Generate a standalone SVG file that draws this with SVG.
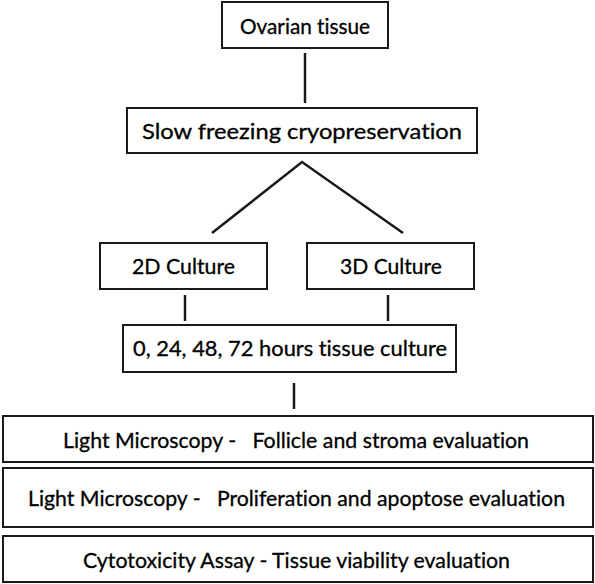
<svg xmlns="http://www.w3.org/2000/svg" width="595" height="584" viewBox="0 0 595 584">
<style>
.box{fill:#fff;stroke:#1a1a1a;stroke-width:2}
.t{font-family:Lato,"Liberation Sans",Arial,sans-serif;font-size:21px;fill:#000;text-anchor:middle;stroke:#000;stroke-width:0.3;font-variant-ligatures:none;font-feature-settings:"liga" 0,"dlig" 0}
.c{stroke:#1a1a1a;stroke-width:2.5;fill:none}
</style>
<rect width="595" height="584" fill="#fff"/>
<g id="connectors">
<line class="c" x1="305" y1="53" x2="305" y2="103"/>
<polyline class="c" points="212,233 302,162 403,233"/>
<line class="c" x1="185" y1="295" x2="185" y2="321"/>
<line class="c" x1="388" y1="295" x2="388" y2="321"/>
<line class="c" x1="294" y1="383" x2="294" y2="409"/>
</g>
<g id="ovarian">
<rect class="box" x="222" y="2" width="166" height="46"/>
<text class="t" x="305" y="34" textLength="130" lengthAdjust="spacingAndGlyphs">Ovarian tissue</text>
</g>
<g id="slow">
<rect class="box" x="127" y="108" width="350" height="45"/>
<text class="t" x="302" y="139" textLength="320" lengthAdjust="spacingAndGlyphs">Slow freezing cryopreservation</text>
</g>
<g id="c2d">
<rect class="box" x="100" y="243" width="167" height="46"/>
<text class="t" x="183.5" y="274" textLength="103" lengthAdjust="spacingAndGlyphs">2D Culture</text>
</g>
<g id="c3d">
<rect class="box" x="307" y="243" width="167" height="46"/>
<text class="t" x="391" y="274" textLength="102" lengthAdjust="spacingAndGlyphs">3D Culture</text>
</g>
<g id="culture">
<rect class="box" x="123" y="325" width="333" height="47"/>
<text class="t" x="290" y="356" textLength="314" lengthAdjust="spacingAndGlyphs">0, 24, 48, 72 hours tissue culture</text>
</g>
<g id="lm1">
<rect class="box" x="3" y="416" width="590" height="46"/>
<text class="t" x="296" y="448" textLength="466" lengthAdjust="spacingAndGlyphs" xml:space="preserve">Light Microscopy -   Follicle and stroma evaluation</text>
</g>
<g id="lm2">
<rect class="box" x="3" y="468" width="590" height="59"/>
<text class="t" x="296.5" y="506" textLength="537" lengthAdjust="spacingAndGlyphs" xml:space="preserve">Light Microscopy -   Proliferation and apoptose evaluation</text>
</g>
<g id="cyto">
<rect class="box" x="3" y="536" width="590" height="46"/>
<text class="t" x="296.5" y="568" textLength="427" lengthAdjust="spacingAndGlyphs">Cytotoxicity Assay - Tissue viability evaluation</text>
</g>
</svg>
